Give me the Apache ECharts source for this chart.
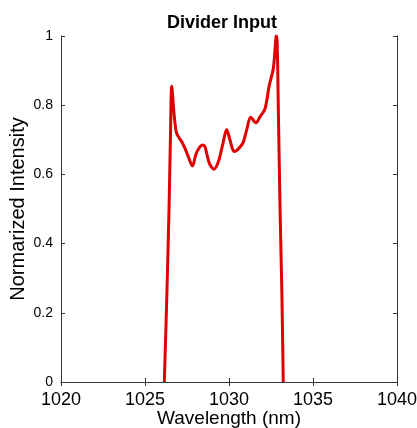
<!DOCTYPE html>
<html><head><meta charset="utf-8">
<script src="https://cdn.jsdelivr.net/npm/echarts@6/dist/echarts.min.js"></script>
<style>html,body{margin:0;padding:0;background:#fff}#c{width:417px;height:428px}</style>
</head><body><div id="c"></div>
<script>
const wavelength = [1026.15,1026.30,1026.43,1026.52,1026.59,1026.72,1026.88,1027.18,1027.38,1027.58,1027.82,1028.07,1028.43,1028.57,1028.83,1029.11,1029.37,1029.62,1029.86,1030.06,1030.30,1030.50,1030.82,1031.05,1031.29,1031.61,1031.85,1032.14,1032.40,1032.64,1032.80,1032.84,1032.95,1033.04,1033.15,1033.23];
const intensity  = [0,0.25,0.50,0.72,0.855,0.78,0.719,0.695,0.675,0.651,0.624,0.663,0.685,0.680,0.632,0.615,0.637,0.685,0.730,0.699,0.666,0.671,0.690,0.728,0.765,0.749,0.767,0.789,0.858,0.907,0.998,1.0,0.75,0.497,0.25,0];
const xTicks = [1020,1025,1030,1035,1040];
const yTicks = [0,0.2,0.4,0.6,0.8,1];
const titleText = 'Divider Input';
const xName = 'Wavelength (nm)';
const yName = 'Normarized Intensity';

const chart = echarts.init(document.getElementById('c'));
const axisCol = '#333';
const font = 'Liberation Sans, Arial, sans-serif';
const common = {
  axisLine:{show:true,lineStyle:{color:axisCol,width:1}},
  axisTick:{show:true,inside:true,length:4,lineStyle:{color:axisCol}},
  splitLine:{show:false}
};
chart.setOption({
  animation:false,
  title:{text:titleText,left:217,top:9,textAlign:'center',textStyle:{fontFamily:font,fontSize:18,fontWeight:'bold',color:'#000'}},
  grid:{left:61,right:20,top:36,bottom:46,containLabel:false,outerBoundsMode:'none'},
  xAxis:[
    Object.assign({type:'value',min:xTicks[0],max:xTicks[xTicks.length-1],interval:5,position:'bottom',
      name:xName,nameLocation:'middle',nameGap:27,nameMoveOverlap:false,nameTextStyle:{fontFamily:font,fontSize:19,color:'#000'},
      axisLabel:{fontFamily:font,fontSize:18,color:'#000',margin:9,formatter:v=>String(v)}},common),
    Object.assign({type:'value',min:xTicks[0],max:xTicks[xTicks.length-1],interval:5,position:'top',axisLabel:{show:false}},common)
  ],
  yAxis:[
    Object.assign({type:'value',min:0,max:1,interval:0.2,position:'left',
      name:yName,nameLocation:'middle',nameGap:33,nameMoveOverlap:false,nameTextStyle:{fontFamily:font,fontSize:20,color:'#000'},
      axisLabel:{fontFamily:font,fontSize:14,color:'#000',margin:8,formatter:v=>String(+v.toFixed(1))}},common),
    Object.assign({type:'value',min:0,max:1,interval:0.2,position:'right',axisLabel:{show:false}},common)
  ],
  series:[{type:'line',xAxisIndex:0,yAxisIndex:0,data:wavelength.map((w,i)=>[w,intensity[i]]),
    showSymbol:false,smooth:0.3,lineStyle:{color:'#e00000',width:3},z:3}]
});
</script></body></html>
